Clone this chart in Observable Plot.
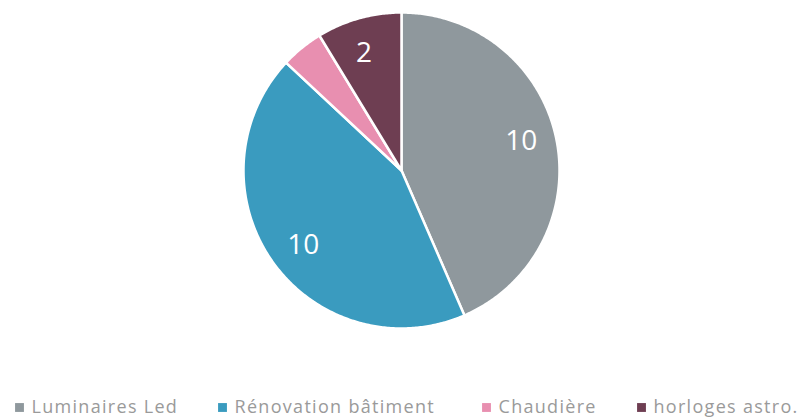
<!DOCTYPE html>
<html><head><meta charset="utf-8">
<script src="https://cdn.jsdelivr.net/npm/d3@7"></script>
<script src="https://cdn.jsdelivr.net/npm/@observablehq/plot@0.6"></script>
<style>body{margin:0;background:#fff;} g[fill="#9a9a9a"] text{letter-spacing:1.3px;}</style>
</head><body><div id="chart"></div>
<script>
const categories = ["Luminaires Led", "Rénovation bâtiment", "Chaudière", "horloges astro."];
const values = [10, 10, 1, 2];
const labels = ["10", "10", "", "2"];
const colors = ["#8f989d", "#3a9bbf", "#e88fb0", "#6e3e52"];

const W = 800, H = 419;
const cx = 401, cy = 170, R = 158;
const pie = d3.pie().sort(null).value(d => d.value)(categories.map((c, i) => ({cat: c, value: values[i], label: labels[i], color: colors[i]})));

const slices = [];
pie.forEach(p => {
  slices.push({cat: p.data.cat, x: cx, y: cy});
  const n = Math.max(2, Math.ceil((p.endAngle - p.startAngle) / 0.01));
  for (let k = 0; k <= n; k++) {
    const a = p.startAngle + (p.endAngle - p.startAngle) * k / n;
    slices.push({cat: p.data.cat, x: cx + R * Math.sin(a), y: cy - R * Math.cos(a)});
  }
  slices.push({cat: p.data.cat, x: cx, y: cy});
});
const lab = pie.map(p => {
  const a = (p.startAngle + p.endAngle) / 2 - 0.035, r = R * 0.78;
  return {label: p.data.label, x: cx + r * Math.sin(a), y: cy - r * Math.cos(a)};
});
const legendX = [19, 222, 486, 641];
const legend = categories.map((c, i) => ({cat: c, x: legendX[i], y: 407}));

const chart = Plot.plot({
  width: W, height: H, margin: 0,
  x: {domain: [0, W], range: [0, W], axis: null},
  y: {domain: [0, H], range: [0, H], axis: null},
  color: {domain: categories, range: colors},
  style: {fontFamily: "'Open Sans', sans-serif"},
  marks: [
    Plot.line(slices, {x: "x", y: "y", z: "cat", fill: "cat", stroke: "white", strokeWidth: 2.5, curve: "linear"}),
    Plot.text(lab, {x: "x", y: "y", text: "label", fill: "white", fontSize: 28}),
    Plot.dot(legend, {x: "x", y: "y", symbol: "square", r: 5, fill: "cat"}),
    Plot.text(legend, {x: d => d.x + 12, y: "y", text: "cat", textAnchor: "start", fill: "#9a9a9a", fontSize: 18})
  ]
});
document.getElementById("chart").appendChild(chart);
</script>
</body></html>
